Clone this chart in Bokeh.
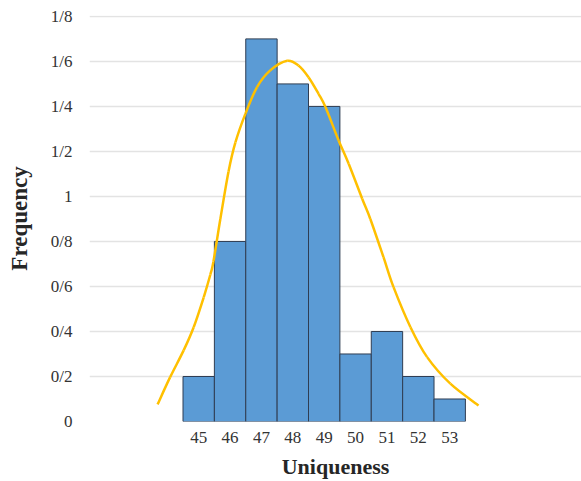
from bokeh.plotting import figure
from bokeh.models import FixedTicker, Range1d
from bokeh.embed import file_html
from bokeh.resources import INLINE

# Histogram data
bins = [45, 46, 47, 48, 49, 50, 51, 52, 53]
freq = [0.2, 0.8, 1.7, 1.5, 1.4, 0.3, 0.4, 0.2, 0.1]

# Fitted curve
curve_x = [43.69, 44.09, 44.52, 44.84, 45.16, 45.37, 45.47, 45.69, 45.95, 46.17,
           46.49, 46.86, 47.28, 47.82, 48.18, 48.50, 48.82, 49.04, 49.46, 49.78,
           50.21, 50.47, 50.89, 51.21, 51.75, 52.28, 53.02, 53.92]
curve_y = [0.076, 0.197, 0.316, 0.419, 0.552, 0.652, 0.711, 0.900, 1.110, 1.240,
           1.368, 1.486, 1.560, 1.603, 1.582, 1.530, 1.456, 1.397, 1.249, 1.145,
           0.990, 0.900, 0.730, 0.597, 0.419, 0.286, 0.168, 0.071]

y_ticks = [0, 0.2, 0.4, 0.6, 0.8, 1.0, 1.2, 1.4, 1.6, 1.8]
y_tick_labels = ["0", "0/2", "0/4", "0/6", "0/8", "1", "1/2", "1/4", "1/6", "1/8"]
x_title = "Uniqueness"
y_title = "Frequency"

p = figure(width=581, height=481, output_backend="svg", toolbar_location=None,
           x_range=Range1d(41.52, 57.2), y_range=Range1d(0, 1.804),
           min_border_left=89, min_border_right=0, min_border_top=15, min_border_bottom=60)
p.outline_line_color = None
p.background_fill_color = "white"
p.border_fill_color = "white"

p.quad(left=[b - 0.5 for b in bins], right=[b + 0.5 for b in bins], bottom=0, top=freq,
       fill_color="#5B9BD5", line_color="#2F3D52", line_width=1)

# smooth (Catmull-Rom) rendering of the curve through the read points
n = len(curve_x)
x0s, y0s, x1s, y1s, cx0s, cy0s, cx1s, cy1s = [], [], [], [], [], [], [], []
for i in range(n - 1):
    pa = (curve_x[max(i - 1, 0)], curve_y[max(i - 1, 0)])
    p1 = (curve_x[i], curve_y[i])
    p2 = (curve_x[i + 1], curve_y[i + 1])
    pb = (curve_x[min(i + 2, n - 1)], curve_y[min(i + 2, n - 1)])
    x0s.append(p1[0]); y0s.append(p1[1]); x1s.append(p2[0]); y1s.append(p2[1])
    cx0s.append(p1[0] + (p2[0] - pa[0]) / 6); cy0s.append(p1[1] + (p2[1] - pa[1]) / 6)
    cx1s.append(p2[0] - (pb[0] - p1[0]) / 6); cy1s.append(p2[1] - (pb[1] - p1[1]) / 6)
p.bezier(x0=x0s, y0=y0s, x1=x1s, y1=y1s, cx0=cx0s, cy0=cy0s, cx1=cx1s, cy1=cy1s,
         line_color="#FFC000", line_width=2.5)

p.xgrid.grid_line_color = None
p.ygrid.grid_line_color = "#E3E3E3"
p.ygrid.grid_line_width = 1.5
p.ygrid.ticker = FixedTicker(ticks=y_ticks)

font = "Liberation Serif"
p.yaxis.ticker = FixedTicker(ticks=y_ticks)
p.yaxis.major_label_overrides = {t: l for t, l in zip(y_ticks, y_tick_labels)}
p.xaxis.ticker = FixedTicker(ticks=bins)
for ax in (p.xaxis, p.yaxis):
    ax.axis_line_color = None
    ax.major_tick_line_color = None
    ax.minor_tick_line_color = None
    ax.major_tick_out = 0
    ax.major_tick_in = 0
    ax.major_label_text_font = font
    ax.major_label_text_font_size = "17px"
    ax.major_label_text_color = "#333333"
    ax.axis_label_text_font = font
    ax.axis_label_text_font_style = "bold"
    ax.axis_label_text_color = "#262626"

p.yaxis.axis_label = y_title
p.yaxis.axis_label_text_font_size = "23px"
p.yaxis.major_label_standoff = 17
p.yaxis.axis_label_standoff = 16
p.xaxis.axis_label = x_title
p.xaxis.axis_label_text_font_size = "22px"
p.xaxis.major_label_standoff = 10
p.xaxis.axis_label_standoff = 8

open("out.html", "w").write(file_html(p, INLINE))
